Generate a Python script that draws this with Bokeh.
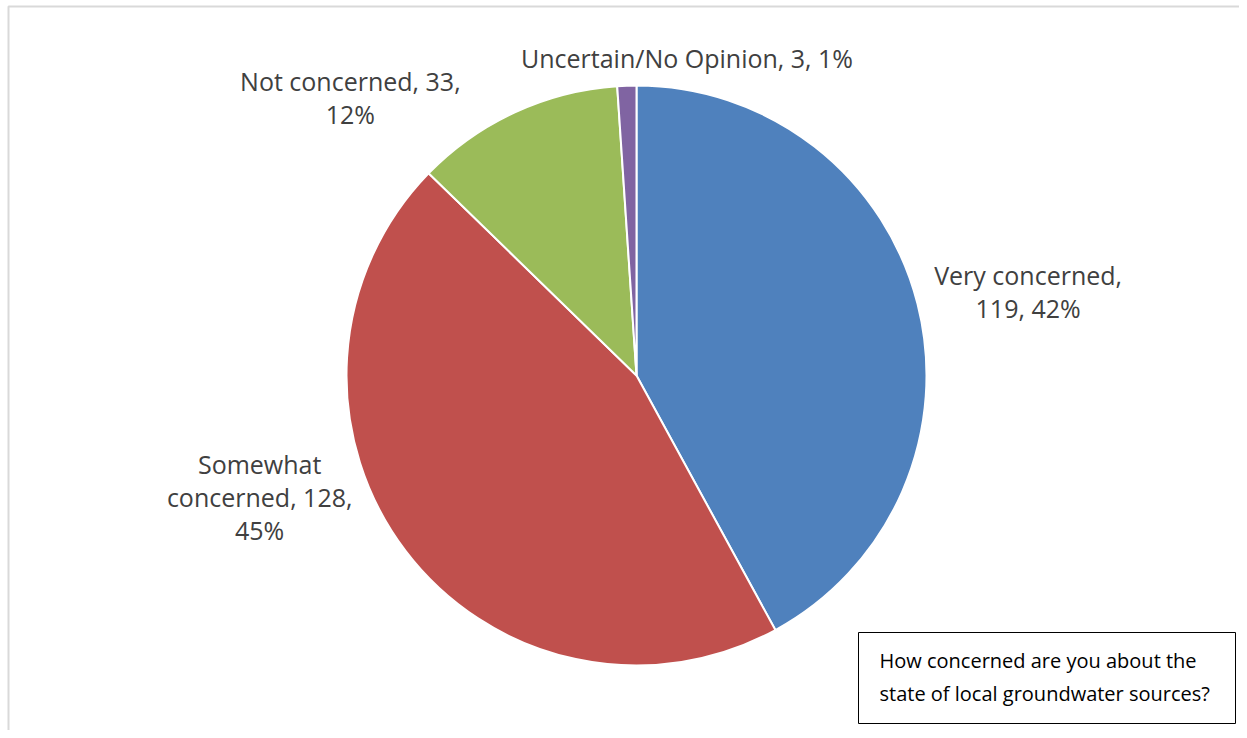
import math
from bokeh.plotting import figure
from bokeh.models import Range1d, BoxAnnotation, Label, ColumnDataSource
from bokeh.core.properties import value
from bokeh.embed import file_html
from bokeh.resources import INLINE

# ---- data ----
categories = ["Very concerned", "Somewhat concerned", "Not concerned", "Uncertain/No Opinion"]
counts = [119, 128, 33, 3]
percents = [42, 45, 12, 1]
label_texts = ["Very concerned,\n119, 42%", "Somewhat\nconcerned, 128,\n45%",
               "Not concerned, 33,\n12%", "Uncertain/No Opinion, 3, 1%"]
colors = ["#4F81BD", "#C0504D", "#9BBB59", "#8064A2"]
question = "How concerned are you about the\nstate of local groundwater sources?"

W, H = 1239, 730
p = figure(width=W, height=H, output_backend="svg", toolbar_location=None,
           x_range=Range1d(0, W), y_range=Range1d(0, H), min_border=0)
p.axis.visible = False
p.grid.visible = False
p.outline_line_color = None

# chart-area frame (right and bottom edges fall outside the picture)
frame = BoxAnnotation(left=8, right=W + 50, top=H - 6, bottom=-50, fill_alpha=0,
                      line_color="#d9d9d9", line_alpha=1, line_width=2)
p.add_layout(frame)

cx, cy, R = 636, H - 375, 290
total = sum(counts)
starts, ends, mids = [], [], []
cum = 0
for c in counts:
    f0 = cum / total
    cum += c
    f1 = cum / total
    starts.append(math.pi / 2 - f0 * 2 * math.pi)
    ends.append(math.pi / 2 - f1 * 2 * math.pi)
    mids.append((f0 + f1) / 2 * 2 * math.pi)  # clockwise from top

src = ColumnDataSource(dict(x=[cx] * 4, y=[cy] * 4, start=starts, end=ends, color=colors))
p.wedge(x="x", y="y", radius=R, start_angle="start", end_angle="end", direction="clock",
        fill_color="color", line_color="white", line_width=2, source=src)

# label placement (offset outward from slice edge)
lab_r = [R + 13, R + 40, R + 25, R + 25]
dx = [98, -114, -154, 61]
dy = [9, 78, -8, 3]
lx, ly = [], []
for i, m in enumerate(mids):
    lx.append(cx + lab_r[i] * math.sin(m) + dx[i])
    ly.append(cy + lab_r[i] * math.cos(m) + dy[i])
lsrc = ColumnDataSource(dict(x=lx, y=ly, text=label_texts))
p.text(x="x", y="y", text="text", text_align="center", text_baseline="middle",
       text_font=value("Open Sans"), text_font_size="25px", text_color="#404040",
       text_line_height=0.97, source=lsrc)

box = BoxAnnotation(left=858, right=1235, bottom=H - 723, top=H - 632, fill_color="white",
                    fill_alpha=1, line_color="black", line_alpha=1, line_width=1)
p.add_layout(box)
q = Label(x=879, y=H - 676.5, text=question, text_font="Open Sans", text_font_size="20px",
          text_color="black", text_baseline="middle", text_line_height=1.21)
p.add_layout(q)

open("out.html", "w").write(file_html(p, INLINE))
